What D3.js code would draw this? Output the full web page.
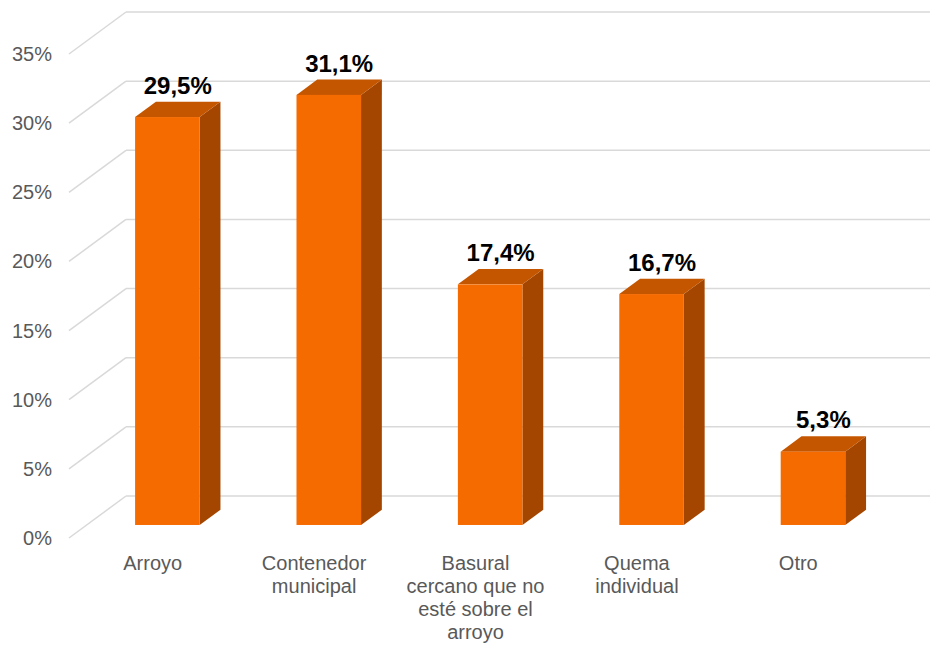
<!DOCTYPE html>
<html><head><meta charset="utf-8">
<script src="https://cdn.jsdelivr.net/npm/d3@7"></script>
<style>body{margin:0;background:#fff}svg{display:block}</style>
</head><body>
<svg id="c" width="930" height="645"></svg>
<script>
const categories = ["Arroyo", "Contenedor\nmunicipal", "Basural\ncercano que no\nesté sobre el\narroyo", "Quema\nindividual", "Otro"];
const values = [29.5, 31.1, 17.4, 16.7, 5.3];
const valueLabels = ["29,5%", "31,1%", "17,4%", "16,7%", "5,3%"];
const ticks = [0, 5, 10, 15, 20, 25, 30, 35];

const svg = d3.select("#c");
const font = "'Liberation Sans', Arial, sans-serif";
// front plane scales
const x = d3.scaleBand().domain(categories).range([69, 876]).padding(0);
const y = d3.scaleLinear().domain([0, 35]).range([538, 54]);
// depth offset (front -> back)
const DX = 57, DY = -42;
const f1 = 0.31, f2 = 0.675; // bar front / back depth fractions
const barW = x.bandwidth() * 0.4;

// gridlines
const g = svg.append("g");
ticks.forEach(t => {
  g.append("line").attr("x1", 69).attr("y1", y(t)).attr("x2", 69 + DX).attr("y2", y(t) + DY)
    .attr("stroke", "#d9d9d9").attr("stroke-width", 1.5);
  g.append("line").attr("x1", 69 + DX).attr("y1", y(t) + DY).attr("x2", 876 + DX).attr("y2", y(t) + DY)
    .attr("stroke", "#d9d9d9").attr("stroke-width", 1.5);
});

// tick labels
svg.append("g").selectAll("text").data(ticks).join("text")
  .attr("x", 52).attr("y", d => y(d)).attr("dy", "0.35em")
  .attr("text-anchor", "end").attr("font-family", font).attr("font-size", 20).attr("fill", "#595959")
  .text(d => d + "%");

// bars
const bars = svg.append("g");
categories.forEach((c, i) => {
  const v = values[i];
  const cx = x(c) + x.bandwidth() / 2;
  const xl = cx - barW / 2 + DX * f1, xr = xl + barW;
  const yb = y(0) + DY * f1, yt = y(v) + DY * f1;
  const ddx = DX * (f2 - f1), ddy = DY * (f2 - f1);
  // side
  bars.append("path").attr("d", `M${xr},${yt}L${xr + ddx},${yt + ddy}L${xr + ddx},${yb + ddy}L${xr},${yb}Z`)
    .attr("fill", "#a44500");
  // top
  bars.append("path").attr("d", `M${xl},${yt}L${xl + ddx},${yt + ddy}L${xr + ddx},${yt + ddy}L${xr},${yt}Z`)
    .attr("fill", "#c55600");
  // front
  bars.append("rect").attr("x", xl).attr("y", yt).attr("width", barW).attr("height", yb - yt)
    .attr("fill", "#f56b00");
  // value label
  bars.append("text").attr("x", (xl + xr + ddx) / 2).attr("y", yt + ddy - 8)
    .attr("text-anchor", "middle").attr("font-family", font).attr("font-weight", "bold")
    .attr("font-size", 24).attr("fill", "#000").text(valueLabels[i]);
});

// category labels
const cl = svg.append("g");
categories.forEach(c => {
  const t = cl.append("text").attr("x", x(c) + x.bandwidth() / 2 + 3).attr("y", 570)
    .attr("text-anchor", "middle").attr("font-family", font).attr("font-size", 20).attr("fill", "#595959");
  c.split("\n").forEach((line, j) => {
    t.append("tspan").attr("x", x(c) + x.bandwidth() / 2 + 3).attr("dy", j === 0 ? 0 : 23).text(line);
  });
});
</script>
</body></html>
